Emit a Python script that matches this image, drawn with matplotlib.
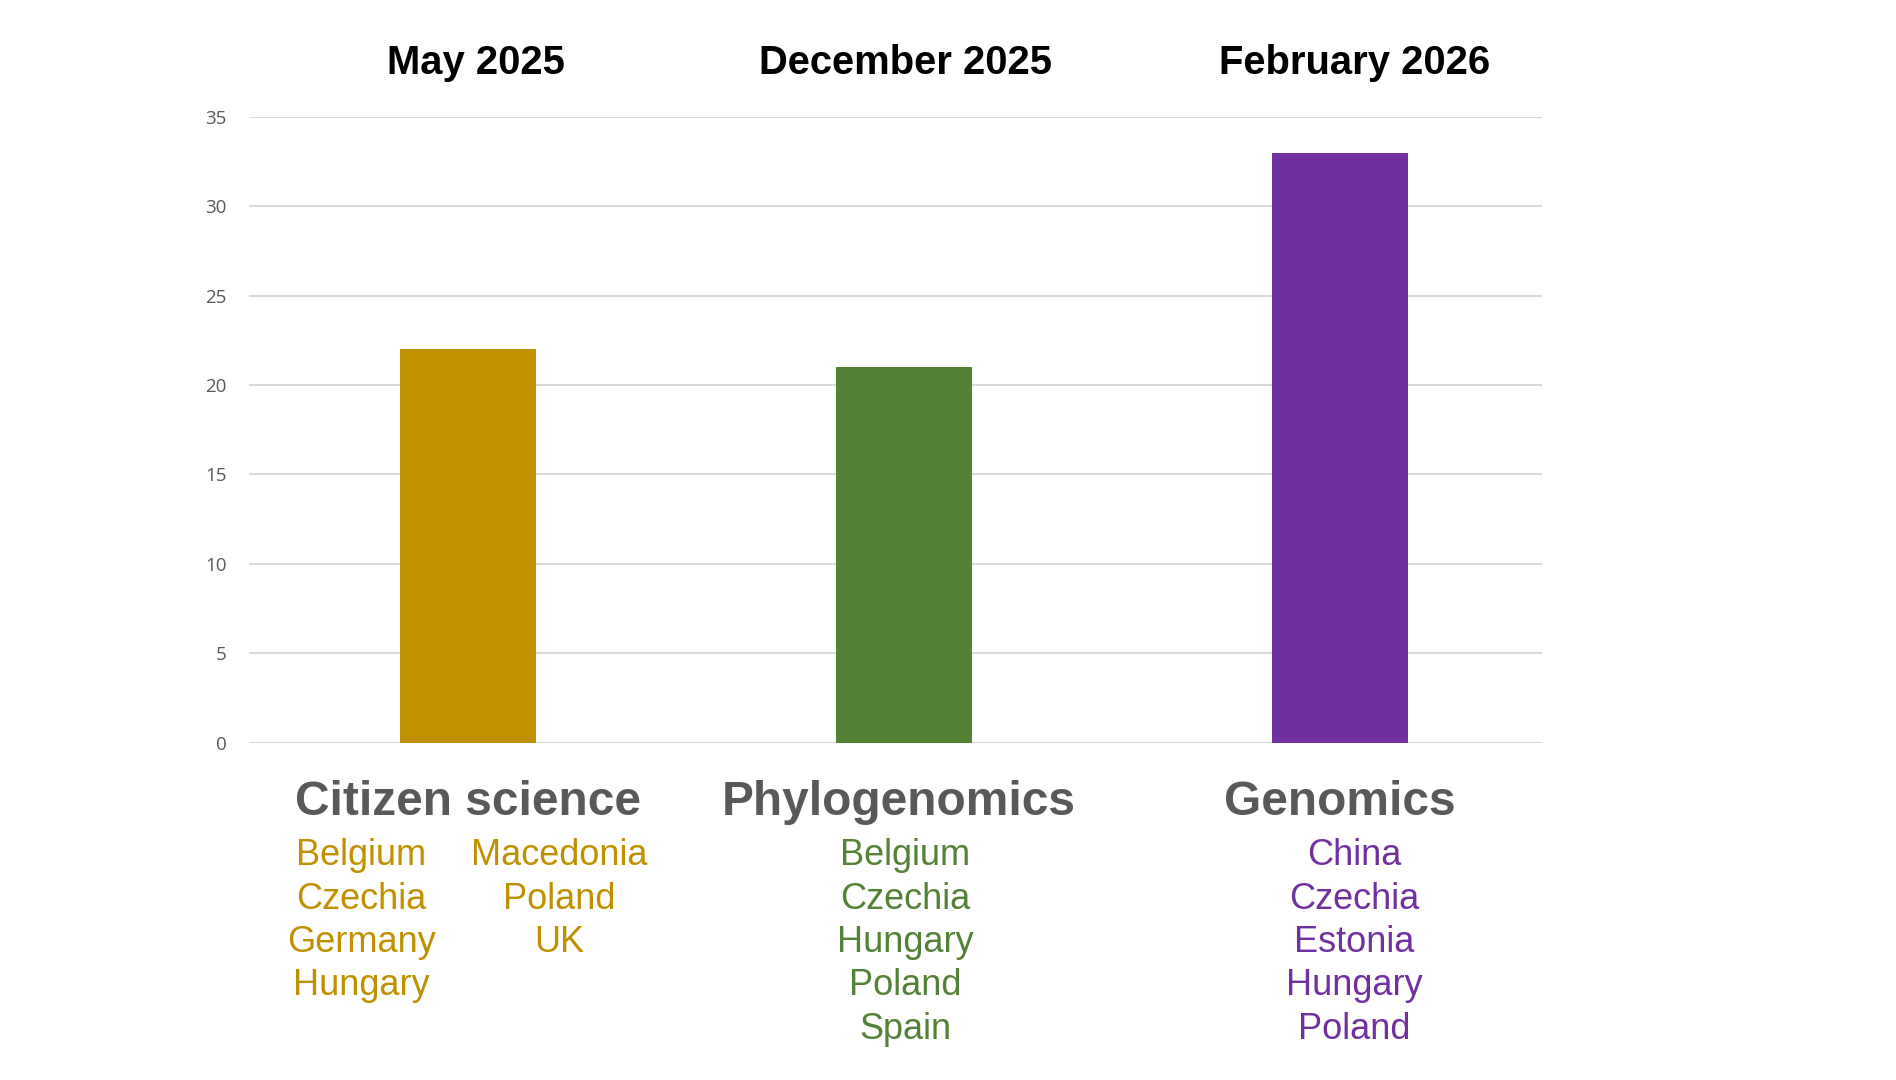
import matplotlib
matplotlib.use("Agg")
import matplotlib.pyplot as plt
import matplotlib.transforms as mtransforms

plt.rcParams['figure.dpi'] = 100
plt.rcParams['font.family'] = ['Liberation Sans', 'DejaVu Sans']

# data
periods = ["May 2025", "December 2025", "February 2026"]
topics = ["Citizen science", "Phylogenomics", "Genomics"]
counts = [22, 21, 33]
bar_colors = ["#BF9000", "#538135", "#7030A0"]
countries_cs_left = ["Belgium", "Czechia", "Germany", "Hungary"]
countries_cs_right = ["Macedonia", "Poland", "UK"]
countries_phylo = ["Belgium", "Czechia", "Hungary", "Poland", "Spain"]
countries_gen = ["China", "Czechia", "Estonia", "Hungary", "Poland"]
yticks = [0, 5, 10, 15, 20, 25, 30, 35]

fig = plt.figure(figsize=(18.96, 10.8))
ax = fig.add_axes([0.1313, 0.3124, 0.6822, 0.5793])

x = list(range(len(topics)))
ax.bar(x, counts, width=0.312, color=bar_colors, zorder=3)

ax.set_xlim(-0.503, 2.464)
ax.set_ylim(0, 35)
ax.set_yticks(yticks)
ax.set_yticklabels([str(v) for v in yticks], family=['Open Sans', 'DejaVu Sans'],
                   fontsize=13.5, color="#595959")
ax.tick_params(axis='y', length=0, pad=16)
ax.grid(axis='y', color="#D9D9D9", linewidth=1.5, zorder=0)
for s in ax.spines.values():
    s.set_visible(False)

# category labels under the bars (middle one sits a touch left in the original)
ax.set_xticks([0, 0.988, 2])
ax.set_xticklabels(topics, fontsize=34.5, fontweight='bold', color="#595959")
ax.tick_params(axis='x', length=0, pad=27)

trans = mtransforms.blended_transform_factory(ax.transData, fig.transFigure)

# period headers
title_x = [0.017, 1.002, 2.033]
for tx, p in zip(title_x, periods):
    ax.text(tx, 0.9413, p, transform=trans, ha='center', va='center',
            fontsize=28.8, fontweight='bold', color="black")

# country lists
def country_col(xpos, names, color):
    for i, n in enumerate(names):
        ax.text(xpos, 0.2075 - i * 0.0401, n, transform=trans, ha='center',
                va='center', fontsize=26, color=color)

country_col(-0.245, countries_cs_left, bar_colors[0])
country_col(0.209, countries_cs_right, bar_colors[0])
country_col(1.002, countries_phylo, bar_colors[1])
country_col(2.033, countries_gen, bar_colors[2])

fig.savefig("out.png", dpi=100, facecolor="white")
